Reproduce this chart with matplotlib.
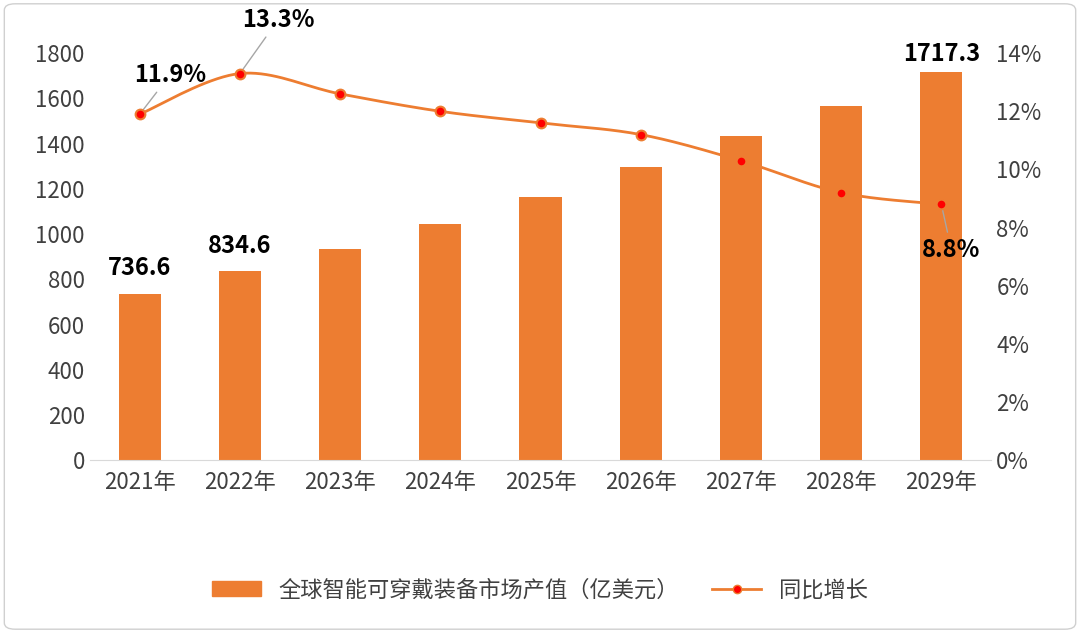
import numpy as np
import matplotlib
matplotlib.use('Agg')
import matplotlib.pyplot as plt
from matplotlib.patches import FancyBboxPatch

plt.rcParams['font.family'] = ['Noto Sans CJK SC', 'DejaVu Sans']

years = ['2021年', '2022年', '2023年', '2024年', '2025年', '2026年', '2027年', '2028年', '2029年']
market = [736.6, 834.6, 935, 1045, 1165, 1298, 1435, 1568, 1717.3]
growth = [11.9, 13.3, 12.6, 12.0, 11.6, 11.2, 10.3, 9.2, 8.8]

bar_color = '#ED7D31'
fig = plt.figure(figsize=(10.8, 6.33), dpi=100)
fig.patches.append(FancyBboxPatch((0.004, 0.006), 0.992, 0.988, boxstyle='round,pad=0,rounding_size=0.01',
                                  transform=fig.transFigure, fill=False, ec='#d0d0d0', lw=1))
ax = fig.add_axes([0.083, 0.273, 0.835, 0.643])
x = np.arange(len(years))
ax.bar(x, market, width=0.42, color=bar_color, zorder=2)
ax.set_ylim(0, 1800)
ax.set_yticks(range(0, 1801, 200))
ax.set_xlim(-0.5, len(years) - 0.5)
ax.set_xticks(x)
ax.set_xticklabels(years)
for s in ['top', 'right', 'left']:
    ax.spines[s].set_visible(False)
ax.spines['bottom'].set_color('#d9d9d9')
ax.tick_params(axis='both', length=0, labelsize=16, colors='#404040')
ax.tick_params(axis='x', pad=8)

ax2 = ax.twinx()
ax2.set_ylim(0, 14)
ax2.set_yticks(range(0, 15, 2))
ax2.set_yticklabels([f'{v}%' for v in range(0, 15, 2)])
for s in ax2.spines.values():
    s.set_visible(False)
ax2.tick_params(axis='y', length=0, labelsize=16, colors='#404040')

# smooth curve (Catmull-Rom) through the growth points
g = np.array(growth, dtype=float)
xs, ys = [], []
pts = np.column_stack([x, g])
P = np.vstack([pts[0], pts, pts[-1]])
for i in range(1, len(P) - 2):
    p0, p1, p2, p3 = P[i - 1], P[i], P[i + 1], P[i + 2]
    for t in np.linspace(0, 1, 20):
        c = 0.5 * ((2 * p1) + (-p0 + p2) * t + (2 * p0 - 5 * p1 + 4 * p2 - p3) * t ** 2 + (-p0 + 3 * p1 - 3 * p2 + p3) * t ** 3)
        xs.append(c[0]); ys.append(c[1])
ax2.plot(xs, ys, color=bar_color, lw=2, zorder=3)
ax2.plot(x, g, 'o', ms=7, mfc='#FF0000', mec=bar_color, mew=1.5, zorder=4)

lab = dict(fontsize=17, fontweight='bold', color='black', ha='center')
ax.text(0, market[0] + 60, '736.6', va='bottom', **lab)
ax.text(1, market[1] + 60, '834.6', va='bottom', **lab)
ax.text(8, market[8] + 25, '1717.3', va='bottom', **lab)
ax2.annotate('11.9%', (0, g[0]), xytext=(0.3, 13.0), arrowprops=dict(arrowstyle='-', color='#a6a6a6'), **lab)
ax2.annotate('13.3%', (1, g[1]), xytext=(1.38, 14.9), arrowprops=dict(arrowstyle='-', color='#a6a6a6'), **lab)
ax2.annotate('8.8%', (8, g[8]), xytext=(8.1, 7.0), arrowprops=dict(arrowstyle='-', color='#a6a6a6'), **lab)

h1 = plt.Rectangle((0, 0), 1, 1, color=bar_color)
h2, = ax2.plot([], [], '-o', color=bar_color, mfc='#FF0000', mec=bar_color, ms=6, lw=2)
fig.legend([h1, h2], ['全球智能可穿戴装备市场产值（亿美元）', '同比增长'], loc='center',
           bbox_to_anchor=(0.5, 0.068), ncol=2, frameon=False, fontsize=16, labelcolor='#404040',
           handlelength=2.2, columnspacing=1.5)
fig.savefig('out.png', dpi=100)
